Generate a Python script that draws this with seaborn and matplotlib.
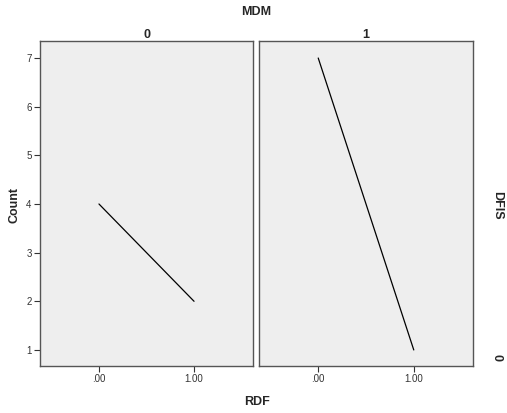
import matplotlib
matplotlib.use("Agg")
import matplotlib.pyplot as plt
import seaborn as sns
import pandas as pd

# values
mdm_levels = [0, 1]
rdf_values = [0, 1]
counts_mdm0 = [4, 2]
counts_mdm1 = [7, 1]
x_ticklabels = [".00", "1.00"]
y_ticks = [1, 2, 3, 4, 5, 6, 7]
row_level = "0"

df = pd.DataFrame({
    "MDM": [0, 0, 1, 1],
    "RDF": rdf_values + rdf_values,
    "Count": counts_mdm0 + counts_mdm1,
})

sns.set_style("ticks")
plt.rcParams["font.family"] = ["Liberation Sans", "DejaVu Sans"]

fig = plt.figure(figsize=(5.07, 4.13), dpi=100)
W, H = 507, 413
panels = [(40, 253), (259, 473)]
top, bottom = 41, 366

for i, m in enumerate(mdm_levels):
    x0, x1 = panels[i]
    ax = fig.add_axes([x0 / W, (H - bottom) / H, (x1 - x0) / W, (bottom - top) / H])
    ax.set_facecolor("#eeeeee")
    sns.lineplot(data=df[df["MDM"] == m], x="RDF", y="Count", ax=ax,
                 color="black", linewidth=0.9)
    ax.set_xlim(-0.62, 1.62)
    ax.set_ylim(0.67, 7.35)
    ax.set_xticks(rdf_values)
    ax.set_xticklabels(x_ticklabels, fontsize=7, color="#333333")
    ax.set_yticks(y_ticks)
    ax.set_xlabel("")
    ax.set_ylabel("")
    ax.tick_params(length=4, width=0.8, color="#333333", pad=2)
    for s in ax.spines.values():
        s.set_visible(True)
        s.set_color("#555555")
        s.set_linewidth(1.0)
    ax.set_title(str(m), fontsize=9, fontweight="bold", pad=2)
    if i == 0:
        ax.set_yticklabels([str(t) for t in y_ticks], fontsize=7, color="#333333")
    else:
        ax.tick_params(axis="y", left=False, labelleft=False)

fig.text(256 / W, 1 - 12 / H, "MDM", ha="center", va="center", fontsize=9, fontweight="bold")
fig.text(14 / W, 1 - 205 / H, "Count", ha="center", va="center", rotation=90,
         fontsize=9, fontweight="bold")
fig.text(257 / W, 1 - 402 / H, "RDF", ha="center", va="center", fontsize=9, fontweight="bold")
fig.text(497 / W, 1 - 205 / H, "DFIS", ha="center", va="center", rotation=-90,
         fontsize=9, fontweight="bold")
fig.text(497 / W, 1 - 358 / H, row_level, ha="center", va="center", rotation=-90,
         fontsize=9, fontweight="bold")

fig.savefig("out.png", dpi=100)
